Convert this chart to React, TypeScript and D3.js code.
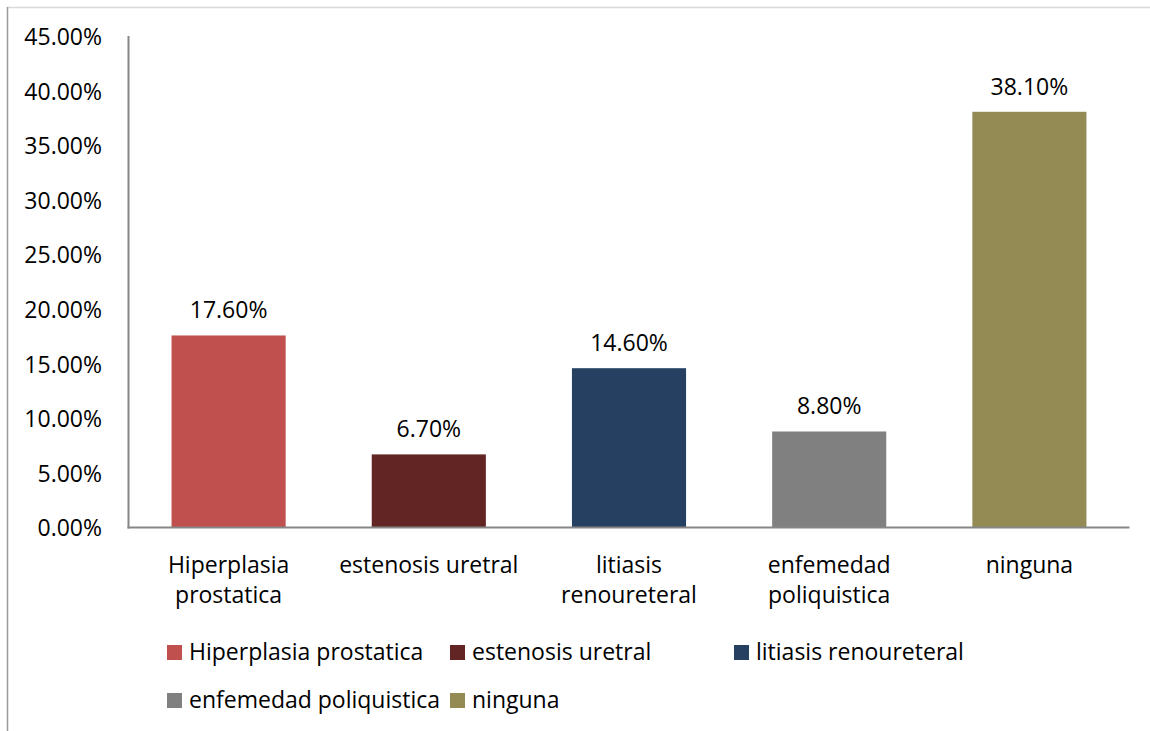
import React from "react";
import * as d3 from "d3";

const categories: string[][] = [
  ["Hiperplasia", "prostatica"],
  ["estenosis uretral"],
  ["litiasis", "renoureteral"],
  ["enfemedad", "poliquistica"],
  ["ninguna"],
];
const legendNames: string[] = [
  "Hiperplasia prostatica",
  "estenosis uretral",
  "litiasis renoureteral",
  "enfemedad poliquistica",
  "ninguna",
];
const values: number[] = [17.6, 6.7, 14.6, 8.8, 38.1];
const colors: string[] = ["#C0504D", "#632523", "#254061", "#808080", "#948A54"];
const yTicks: number[] = [0, 5, 10, 15, 20, 25, 30, 35, 40, 45];

const W = 1150;
const H = 731;
const FONT = "'Open Sans', sans-serif";
const FS = 23;

export default function App() {
  const x = d3
    .scaleBand<number>()
    .domain(d3.range(values.length))
    .range([128.5, 1129.5])
    .paddingInner(0.43)
    .paddingOuter(0.215);
  const y = d3.scaleLinear().domain([0, 45]).range([527.5, 36.5]);
  const fmt = (v: number) => d3.format(".2f")(v) + "%";

  // legend slots: two rows, three columns
  const legendCols = [167, 450, 734];
  const legendRows = [645, 693];

  return (
    <svg
      width={W}
      height={H}
      style={{ position: "absolute", left: 0, top: 0, background: "#fff" }}
      fontFamily={FONT}
    >
      {/* outer frame */}
      <line x1={7} y1={7.5} x2={W} y2={7.5} stroke="#d9d9d9" strokeWidth={1.5} />
      <line x1={7.5} y1={7} x2={7.5} y2={H} stroke="#9a9a9a" strokeWidth={1.5} />

      {/* y tick labels */}
      {yTicks.map((t) => (
        <text
          key={t}
          x={102}
          y={y(t)}
          dy="0.38em"
          textAnchor="end"
          fontSize={FS}
          fill="#000"
        >
          {fmt(t)}
        </text>
      ))}

      {/* bars */}
      {values.map((v, i) => (
        <rect
          key={i}
          x={x(i)}
          y={y(v)}
          width={x.bandwidth()}
          height={y(0) - y(v)}
          fill={colors[i]}
        />
      ))}

      {/* value labels */}
      {values.map((v, i) => (
        <text
          key={i}
          x={(x(i) as number) + x.bandwidth() / 2}
          y={y(v) - 17}
          textAnchor="middle"
          fontSize={FS}
          fill="#000"
        >
          {fmt(v)}
        </text>
      ))}

      {/* axes */}
      <line x1={128.5} y1={36} x2={128.5} y2={528.5} stroke="#868686" strokeWidth={2} />
      <line x1={127.5} y1={527.5} x2={1129.5} y2={527.5} stroke="#868686" strokeWidth={2} />

      {/* category labels */}
      {categories.map((lines, i) => (
        <text
          key={i}
          x={(x(i) as number) + x.bandwidth() / 2}
          y={573}
          textAnchor="middle"
          fontSize={FS}
          fill="#000"
        >
          {lines.map((l, j) => (
            <tspan key={j} x={(x(i) as number) + x.bandwidth() / 2} dy={j === 0 ? 0 : 30}>
              {l}
            </tspan>
          ))}
        </text>
      ))}

      {/* legend */}
      {legendNames.map((name, i) => {
        const row = i < 3 ? 0 : 1;
        const col = i < 3 ? i : i - 3;
        const lx = legendCols[col];
        const ly = legendRows[row];
        return (
          <g key={i}>
            <rect x={lx} y={ly} width={15} height={15} fill={colors[i]} />
            <text x={lx + 22} y={ly + 15} fontSize={FS} fill="#000">
              {name}
            </text>
          </g>
        );
      })}
    </svg>
  );
}
